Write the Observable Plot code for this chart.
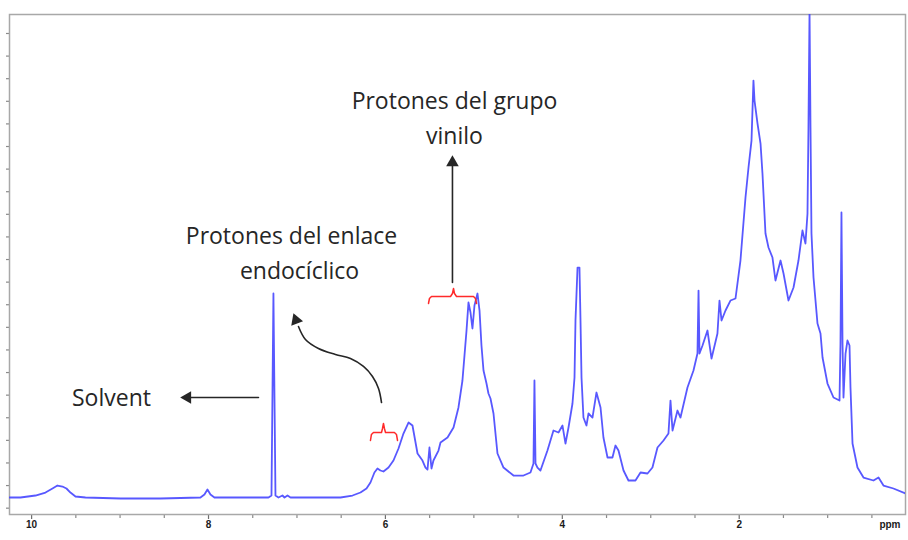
<!DOCTYPE html>
<html><head><meta charset="utf-8">
<script src="https://cdn.jsdelivr.net/npm/d3@7"></script>
<script src="https://cdn.jsdelivr.net/npm/@observablehq/plot@0.6"></script>
<style>html,body{margin:0;padding:0;background:#fff} svg{display:block}</style>
</head><body><div id="chart"></div>
<script>
// Chemical shift (ppm) and intensity (arbitrary units, one y tick = 5)
const shiftPpm = [10.250,10.126,9.956,9.843,9.764,9.708,9.651,9.606,9.561,9.504,9.391,8.995,8.543,8.091,8.046,8.012,7.978,7.933,7.526,7.322,7.288,7.266,7.243,7.209,7.164,7.141,7.107,7.073,6.734,6.508,6.372,6.282,6.214,6.169,6.124,6.090,6.056,6.022,5.965,5.909,5.852,5.796,5.739,5.694,5.637,5.581,5.547,5.524,5.502,5.479,5.457,5.400,5.377,5.298,5.230,5.174,5.129,5.083,5.061,5.038,5.016,4.993,4.959,4.936,4.914,4.891,4.857,4.835,4.812,4.778,4.733,4.665,4.552,4.439,4.360,4.326,4.315,4.303,4.281,4.247,4.168,4.134,4.100,4.043,3.998,3.964,3.930,3.885,3.862,3.851,3.828,3.806,3.795,3.783,3.761,3.727,3.704,3.659,3.614,3.568,3.535,3.489,3.433,3.399,3.365,3.308,3.252,3.173,3.116,3.037,2.981,2.924,2.856,2.800,2.777,2.754,2.698,2.664,2.585,2.517,2.472,2.460,2.449,2.415,2.359,2.313,2.246,2.223,2.200,2.155,2.099,2.042,1.986,1.929,1.895,1.861,1.839,1.827,1.793,1.759,1.737,1.703,1.669,1.624,1.590,1.533,1.499,1.443,1.386,1.330,1.285,1.251,1.228,1.217,1.205,1.194,1.183,1.160,1.115,1.081,1.058,1.002,0.934,0.866,0.855,0.844,0.832,0.821,0.798,0.776,0.753,0.742,0.719,0.663,0.595,0.482,0.425,0.369,0.256,0.120];
const intensity = [2.36,2.36,2.80,3.46,4.35,5.01,4.79,4.35,3.46,2.58,2.36,2.14,2.14,2.36,3.02,4.13,3.02,2.36,2.36,2.36,2.80,47.48,2.80,2.36,2.80,2.36,2.80,2.36,2.36,2.36,2.80,3.46,4.35,5.68,7.89,8.77,8.33,8.11,8.99,10.54,13.20,16.51,18.95,18.28,12.09,10.54,8.99,8.55,13.42,8.77,10.54,12.75,14.52,15.63,17.84,22.27,28.24,39.30,45.49,43.28,39.74,44.83,47.48,43.72,35.98,30.45,27.57,25.36,24.26,20.94,12.09,8.99,7.22,7.22,7.89,9.88,28.24,9.88,8.99,8.33,12.75,14.97,17.18,16.74,18.28,14.30,17.84,23.15,28.90,41.51,53.23,53.23,42.17,28.90,20.05,18.28,20.94,20.05,25.58,22.27,15.63,11.21,11.21,13.86,12.75,8.33,6.12,6.12,7.89,7.67,8.99,13.42,14.97,16.51,23.81,17.18,21.60,20.05,26.69,30.45,34.21,48.14,34.21,35.98,39.30,33.10,38.63,45.93,41.51,43.72,45.93,46.38,54.78,68.72,75.35,81.32,94.59,90.17,85.08,80.66,74.02,60.75,57.66,55.44,50.36,54.78,51.91,45.93,48.81,54.78,61.42,58.54,65.18,84.20,110,84.20,60.75,51.02,40.85,38.63,33.33,27.57,24.48,23.81,36.42,65.40,36.42,24.48,34.21,37.09,35.98,26.69,14.30,8.99,6.78,6.12,6.78,5.01,4.35,3.24];

const xMajorTicks = [10, 8, 6, 4, 2];
const xMinorTicks = [9.5,9,8.5,7.5,7,6.5,5.5,5,4.5,3.5,3,2.5,1.5,1,0.5];
const yTicks = d3.range(0, 106, 5);

// Annotation labels
const labelText = ["Solvent", "Protones del enlace", "endocíclico", "Protones del grupo", "vinilo"];
const labelPpm  = [9.097, 7.062, 6.971, 5.219, 5.219];
const labelY    = [24.25, 60.09, 52.35, 89.95, 82.21];

// Curved arrow (enlace endocíclico)
const curvePpm = [6.044, 6.078, 6.146, 6.248, 6.395, 6.565, 6.757, 6.904, 6.983];
const curveY   = [23.37, 26.47, 29.12, 31.34, 33.10, 33.99, 35.32, 37.31, 40.18];
// Straight arrows: solvent and vinilo
const solventPpm = [7.435, 8.226];
const solventY   = [24.49, 24.49];
const vinylPpm   = [5.242, 5.242];
const vinylY     = [49.92, 76.9];
// Arrow tips
const tipPpm = [8.317, 5.242, 7.039];
const tipY   = [24.49, 78.0, 43.06];

// Red braces
const braceVinylPpm = [5.513, 5.502, 5.479, 5.264, 5.242, 5.230, 5.219, 5.196, 5.004, 4.982, 4.970];
const braceVinylY   = [45.27, 46.38, 46.82, 46.82, 47.48, 48.59, 47.48, 46.82, 46.82, 46.38, 45.27];
const braceEndoPpm  = [6.169, 6.158, 6.135, 6.044, 6.033, 6.022, 6.011, 5.999, 5.898, 5.875, 5.863];
const braceEndoY    = [14.97, 16.30, 16.74, 16.74, 17.62, 18.73, 17.62, 16.74, 16.74, 16.30, 14.97];

const spectrum = shiftPpm.map((p, i) => ({ppm: p, v: intensity[i]}));
const labels = labelText.map((t, i) => ({t, ppm: labelPpm[i], v: labelY[i]}));
const pts = (xs, ys) => xs.map((x, i) => ({x, y: ys[i]}));

const arrowColor = "#262626";
const braceColor = "#ff2a2a";

const chart = Plot.plot({
  width: 908, height: 540,
  marginLeft: 9, marginRight: 3, marginTop: 14, marginBottom: 26,
  style: {background: "#fff", fontFamily: "'Open Sans', sans-serif", overflow: "visible"},
  x: {domain: [10.25, 0.12], axis: null},
  y: {domain: [-1.4, 109.2], axis: null},
  marks: [
    Plot.axisY(yTicks, {tickSize: 3, fill: "none", stroke: "#8a8a8a", strokeWidth: 1.2, label: null}),
    Plot.axisX(xMinorTicks, {tickSize: 4, fill: "none", stroke: "#8a8a8a", strokeWidth: 1.2, label: null}),
    Plot.axisX(xMajorTicks, {tickSize: 5, tickPadding: 1, stroke: "#6e6e6e", strokeWidth: 1.2, fill: "#1a1a1a",
      fontSize: 10, fontWeight: "bold", fontFamily: "'Liberation Sans', Arial, sans-serif", label: null, tickFormat: d => String(d)}),
    Plot.text(["ppm"], {frameAnchor: "bottom-right", dx: -5, dy: 6, lineAnchor: "top", textAnchor: "end",
      fontSize: 10, fontWeight: "bold", fontFamily: "'Liberation Sans', Arial, sans-serif", fill: "#1a1a1a"}),
    Plot.frame({stroke: "#a8a8a8", strokeWidth: 1.5}),
    Plot.line(spectrum, {x: "ppm", y: "v", stroke: "#4646ff", strokeWidth: 1.8, strokeOpacity: 0.9, strokeLinejoin: "round", clip: true}),
    Plot.line(pts(braceVinylPpm, braceVinylY), {x: "x", y: "y", stroke: braceColor, strokeWidth: 1.5}),
    Plot.line(pts(braceEndoPpm, braceEndoY), {x: "x", y: "y", stroke: braceColor, strokeWidth: 1.5}),
    Plot.line(pts(curvePpm, curveY), {x: "x", y: "y", curve: "catmull-rom", stroke: arrowColor, strokeWidth: 1.6}),
    Plot.line(pts(solventPpm, solventY), {x: "x", y: "y", stroke: arrowColor, strokeWidth: 1.6}),
    Plot.line(pts(vinylPpm, vinylY), {x: "x", y: "y", stroke: arrowColor, strokeWidth: 1.6}),
    Plot.dot([0], {x: () => tipPpm[0], y: () => tipY[0], symbol: "triangle2", r: 6, fill: arrowColor, stroke: "none", rotate: -90, dx: 7}),
    Plot.dot([0], {x: () => tipPpm[1], y: () => tipY[1], symbol: "triangle2", r: 6, fill: arrowColor, stroke: "none", rotate: 0, dy: 7}),
    Plot.dot([0], {x: () => tipPpm[2], y: () => tipY[2], symbol: "triangle2", r: 6, fill: arrowColor, stroke: "none", rotate: -20, dx: 2.4, dy: 6.6}),
    Plot.text(labels, {x: "ppm", y: "v", text: "t", fontSize: 23, fill: "#262626", textAnchor: "middle", lineAnchor: "middle", fontFamily: "'Open Sans', sans-serif"})
  ]
});
document.getElementById("chart").appendChild(chart);
</script>
</body></html>
